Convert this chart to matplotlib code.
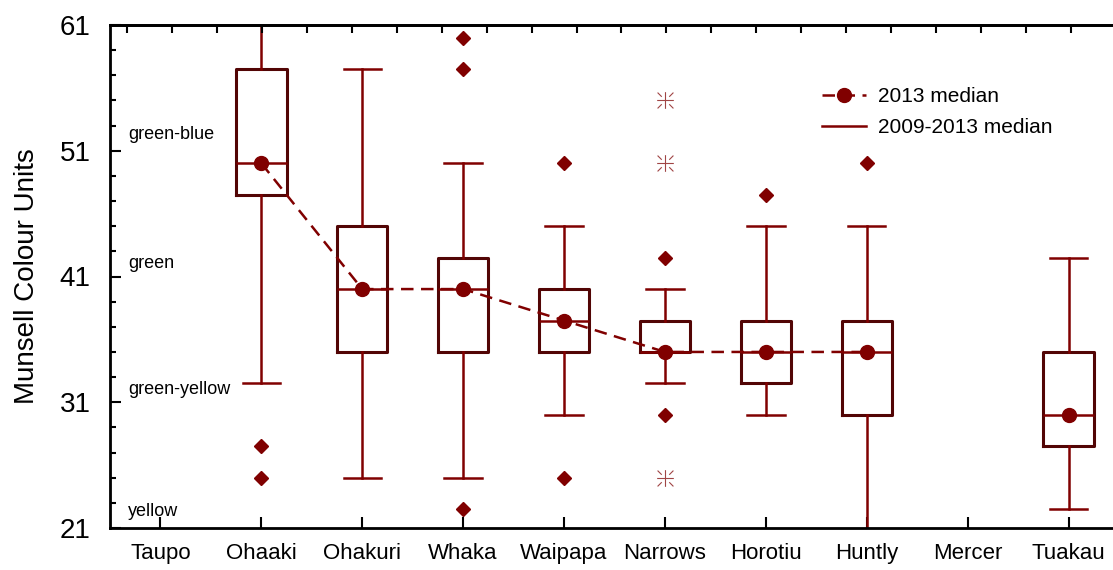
import numpy as np
import matplotlib
matplotlib.use("Agg")
import matplotlib.pyplot as plt
from matplotlib.lines import Line2D
from matplotlib.path import Path

plt.rcParams["font.family"] = ["Liberation Sans", "DejaVu Sans"]

# ---- data ----
sites = ["Taupo", "Ohaaki", "Ohakuri", "Whaka", "Waipapa", "Narrows",
         "Horotiu", "Huntly", "Mercer", "Tuakau"]
# 2009-2013 box statistics (None = no data for that site)
q1 = [None, 47.5, 35, 35, 35, 35, 32.5, 30, None, 27.5]
med = [None, 50, 40, 40, 37.5, 35, 35, 35, None, 30]
q3 = [None, 57.5, 45, 42.5, 40, 37.5, 37.5, 37.5, None, 35]
whislo = [None, 32.5, 25, 25, 30, 32.5, 30, 20, None, 22.5]
whishi = [None, 63, 57.5, 50, 45, 40, 45, 45, None, 42.5]
fliers = [[], [27.5, 25], [], [60, 57.5, 22.5], [50, 25], [42.5, 30],
          [47.5], [50], [], []]
far_outliers = [[], [], [], [], [], [55, 50, 25], [], [], [], []]
# 2013 medians
median_2013 = [np.nan, 50, 40, 40, 37.5, 35, 35, 35, np.nan, 30]
zones = ["yellow", "green-yellow", "green", "green-blue"]
zone_y = [22.3, 32, 42, 52.3]

dark = "#800000"
boxc = "#520505"

# star-like marker: a plus with short diagonal strokes near the corners
star_verts = [(-1, 0), (1, 0), (0, -1), (0, 1),
              (0.45, 0.45), (0.95, 0.95), (-0.45, 0.45), (-0.95, 0.95),
              (0.45, -0.45), (0.95, -0.95), (-0.45, -0.45), (-0.95, -0.95)]
star_codes = [Path.MOVETO, Path.LINETO] * 6
star = Path(star_verts, star_codes)

fig = plt.figure(figsize=(11.13, 5.70), dpi=100)
ax = fig.add_axes([110 / 1113, 42 / 570, 1009 / 1113, 503 / 570])

pos = np.arange(1, len(sites) + 1)
stats, spos = [], []
for i in range(len(sites)):
    if q1[i] is None:
        continue
    stats.append(dict(q1=q1[i], med=med[i], q3=q3[i], whislo=whislo[i],
                      whishi=whishi[i], fliers=fliers[i]))
    spos.append(pos[i])

ax.bxp(stats, positions=spos, widths=0.5, capwidths=0.37,
       boxprops=dict(color=boxc, linewidth=2.2),
       whiskerprops=dict(color=dark, linewidth=1.8),
       capprops=dict(color=dark, linewidth=1.8),
       medianprops=dict(color=dark, linewidth=1.8),
       flierprops=dict(marker="D", markerfacecolor=dark, markeredgecolor=dark,
                       markersize=7))

for i, vals in enumerate(far_outliers):
    if vals:
        ax.plot([pos[i]] * len(vals), vals, ls="none", marker=star, ms=12,
                mew=0.8, color="#a04545", fillstyle="none")

ax.plot(pos, median_2013, ls=(0, (5, 3)), lw=1.8, color=dark,
        marker="o", ms=10, zorder=5)

for z, zy in zip(zones, zone_y):
    ax.text(0.68, zy, z, fontsize=13, ha="left", va="center")

ax.set_xlim(0.5, 10.5)
ax.set_ylim(21, 61)
ax.set_xticks(pos)
ax.set_xticklabels(sites, fontsize=16)
ax.set_yticks([21, 31, 41, 51, 61])
ax.set_yticks(np.arange(23, 61, 2), minor=True)
ax.tick_params(axis="y", which="major", direction="in", length=8, width=1.5,
               labelsize=20, pad=14)
ax.tick_params(axis="y", which="minor", direction="in", length=4, width=1.5)
ax.tick_params(axis="x", which="major", direction="in", length=8, width=1.5,
               pad=11)
ax.set_ylabel("Munsell Colour Units", fontsize=20, labelpad=14)
for s in ["left", "bottom", "top"]:
    ax.spines[s].set_linewidth(2)
ax.spines["right"].set_visible(False)

top = ax.twiny()
top.set_xlim(-17 / 44.95, (1009 - 17) / 44.95)
top.set_xticks(np.arange(0, 23))
top.tick_params(axis="x", direction="in", length=6, width=1.5, labeltop=False)
top.spines["right"].set_visible(False)
top.spines["top"].set_linewidth(2)

handles = [Line2D([], [], color=dark, ls=(0, (5, 3)), lw=1.8, marker="o", ms=10),
           Line2D([], [], color=dark, lw=1.8)]
ax.legend(handles, ["2013 median", "2009-2013 median"], frameon=False,
          fontsize=15, loc="upper left", bbox_to_anchor=(0.706, 0.877),
          borderaxespad=0, borderpad=0, handlelength=2.1,
          handletextpad=0.55, labelspacing=0.6)

fig.savefig("out.png", dpi=100)
